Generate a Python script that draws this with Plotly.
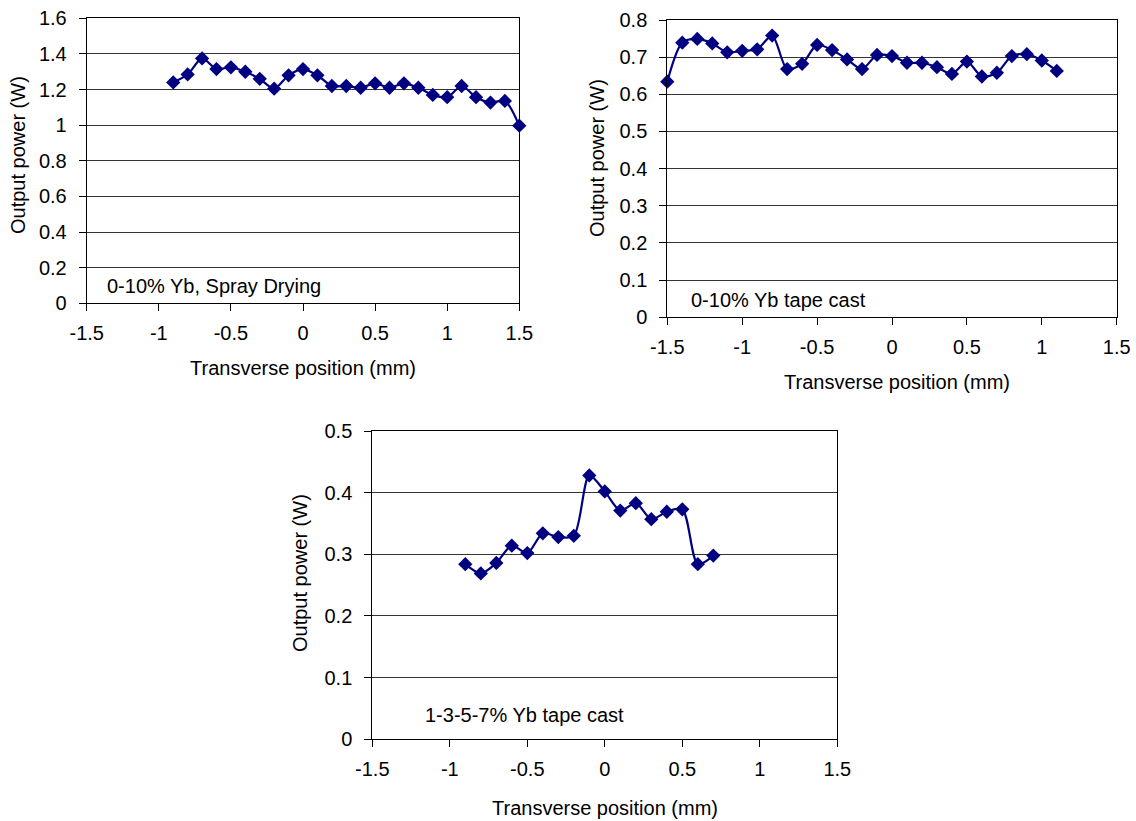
import plotly.graph_objects as go

# ---- data ----
x1 = [-0.9, -0.8, -0.7, -0.6, -0.5, -0.4, -0.3, -0.2, -0.1, 0.0, 0.1, 0.2, 0.3,
      0.4, 0.5, 0.6, 0.7, 0.8, 0.9, 1.0, 1.1, 1.2, 1.3, 1.4, 1.5]
y1 = [1.24, 1.285, 1.375, 1.315, 1.325, 1.30, 1.26, 1.205, 1.28, 1.315, 1.28, 1.22, 1.22,
      1.21, 1.235, 1.21, 1.235, 1.21, 1.17, 1.157, 1.22, 1.157, 1.127, 1.136, 0.997]

x2 = [-1.5, -1.4, -1.3, -1.2, -1.1, -1.0, -0.9, -0.8, -0.7, -0.6, -0.5, -0.4, -0.3, -0.2,
      -0.1, 0.0, 0.1, 0.2, 0.3, 0.4, 0.5, 0.6, 0.7, 0.8, 0.9, 1.0, 1.1]
y2 = [0.634, 0.739, 0.749, 0.737, 0.713, 0.717, 0.721, 0.758, 0.668, 0.682, 0.733, 0.719,
      0.694, 0.668, 0.706, 0.703, 0.685, 0.685, 0.673, 0.655, 0.688, 0.648, 0.658, 0.703,
      0.708, 0.691, 0.663]

x3 = [-0.9, -0.8, -0.7, -0.6, -0.5, -0.4, -0.3, -0.2, -0.1, 0.0, 0.1, 0.2, 0.3, 0.4, 0.5,
      0.6, 0.7]
y3 = [0.284, 0.269, 0.286, 0.314, 0.302, 0.334, 0.328, 0.330, 0.428, 0.402, 0.371, 0.383,
      0.357, 0.369, 0.373, 0.284, 0.298]

x_ticks = [-1.5, -1.0, -0.5, 0.0, 0.5, 1.0, 1.5]
x_tick_labels = ["-1.5", "-1", "-0.5", "0", "0.5", "1", "1.5"]
y1_ticks = [0, 0.2, 0.4, 0.6, 0.8, 1.0, 1.2, 1.4, 1.6]
y1_tick_labels = ["0", "0.2", "0.4", "0.6", "0.8", "1", "1.2", "1.4", "1.6"]
y2_ticks = [0, 0.1, 0.2, 0.3, 0.4, 0.5, 0.6, 0.7, 0.8]
y2_tick_labels = ["0", "0.1", "0.2", "0.3", "0.4", "0.5", "0.6", "0.7", "0.8"]
y3_ticks = [0, 0.1, 0.2, 0.3, 0.4, 0.5]
y3_tick_labels = ["0", "0.1", "0.2", "0.3", "0.4", "0.5"]

labels = ["0-10% Yb, Spray Drying", "0-10% Yb tape cast", "1-3-5-7% Yb tape cast"]
x_title = "Transverse position (mm)"
y_title = "Output power (W)"

W, H = 1136, 821
NAVY = "#000080"
FONT = "Liberation Sans, Arial, sans-serif"
FS = 20


def px_x(p):
    return p / W


def px_y(p):
    return 1 - p / H


fig = go.Figure()
for i, (xs, ys) in enumerate([(x1, y1), (x2, y2), (x3, y3)], start=1):
    fig.add_trace(go.Scatter(
        x=xs, y=ys, mode="lines+markers",
        line=dict(color=NAVY, width=2.2, shape="spline", smoothing=0.8),
        marker=dict(symbol="diamond", size=11, color=NAVY),
        xaxis=f"x{i}" if i > 1 else "x", yaxis=f"y{i}" if i > 1 else "y",
        cliponaxis=False, showlegend=False))

panels = [
    # (x0, x1, y_top, y_bottom, ymax, yticks, ylabels)
    (86.7, 519.3, 18.3, 303.3, 1.6, y1_ticks, y1_tick_labels),
    (667.3, 1116.7, 20.0, 317.3, 0.8, y2_ticks, y2_tick_labels),
    (372.3, 837.3, 431.0, 739.3, 0.5, y3_ticks, y3_tick_labels),
]

layout = dict(
    width=W, height=H, margin=dict(l=0, r=0, t=0, b=0, autoexpand=False),
    paper_bgcolor="white", plot_bgcolor="white",
    font=dict(family=FONT, size=FS, color="black"),
    annotations=[],
)

for i, (xa, xb, yt, yb, ymax, yticks, ylabels) in enumerate(panels, start=1):
    sfx = "" if i == 1 else str(i)
    layout[f"xaxis{sfx}"] = dict(
        domain=[px_x(xa), px_x(xb)], anchor=f"y{sfx}",
        range=[-1.5, 1.5], tickvals=x_ticks, ticktext=x_tick_labels,
        showgrid=False, zeroline=False, automargin=False,
        showline=True, linecolor="black", linewidth=1, mirror=True,
        ticks="outside", ticklen=7, tickcolor="black",
        ticklabelstandoff=5,
        tickfont=dict(size=FS, family=FONT),
    )
    layout[f"yaxis{sfx}"] = dict(
        domain=[px_y(yb), px_y(yt)], anchor=f"x{sfx}",
        range=[0, ymax], tickvals=yticks, ticktext=ylabels,
        showgrid=True, gridcolor="#333333", gridwidth=1,
        zeroline=False, automargin=False,
        showline=True, linecolor="black", linewidth=1, mirror=True,
        ticks="outside", ticklen=7, tickcolor="black",
        ticklabelstandoff=8,
        tickfont=dict(size=FS, family=FONT),
    )

ann_pos = [(105, 286), (689, 300), (423, 715)]
for (ax, ay), txt in zip(ann_pos, labels):
    layout["annotations"].append(dict(
        x=px_x(ax), y=px_y(ay), xref="paper", yref="paper",
        xanchor="left", yanchor="middle", text=txt, showarrow=False,
        font=dict(size=FS, family=FONT, color="black")))

x_title_pos = [(303, 368), (897, 382), (605, 808)]
y_title_pos = [(18, 155), (597, 158), (300, 573)]
for (ax, ay) in x_title_pos:
    layout["annotations"].append(dict(
        x=px_x(ax), y=px_y(ay), xref="paper", yref="paper",
        xanchor="center", yanchor="middle", text=x_title, showarrow=False,
        font=dict(size=FS, family=FONT, color="black")))
for (ax, ay) in y_title_pos:
    layout["annotations"].append(dict(
        x=px_x(ax), y=px_y(ay), xref="paper", yref="paper",
        xanchor="center", yanchor="middle", text=y_title, showarrow=False,
        textangle=-90,
        font=dict(size=FS, family=FONT, color="black")))

fig.update_layout(**layout)
fig.write_html("out.html")
